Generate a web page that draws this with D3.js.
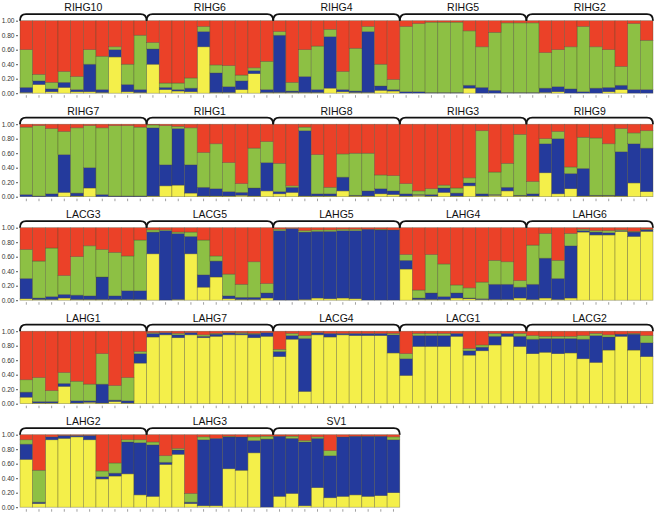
<!DOCTYPE html>
<html><head><meta charset="utf-8">
<script src="https://cdn.jsdelivr.net/npm/d3@7"></script>
<style>body{margin:0;background:#fff}svg{display:block}</style>
</head><body>
<svg id="chart" width="658" height="513"></svg>
<script>
// Population groups, laid out in rows of the figure
const rows = [
  ["RIHG10","RIHG6","RIHG4","RIHG5","RIHG2"],
  ["RIHG7","RIHG1","RIHG8","RIHG3","RIHG9"],
  ["LACG3","LACG5","LAHG5","LAHG4","LAHG6"],
  ["LAHG1","LAHG7","LACG4","LACG1","LACG2"],
  ["LAHG2","LAHG3","SV1"]
];
const yTicks = [0, 0.2, 0.4, 0.6, 0.8, 1.0];

// Membership proportions per individual (10 per group, group order as in rows)
const yellow = [
 .01,.12,.02,.08,.02,.02,.01,.50,.02,.01,
 .40,.05,.03,.02,.64,.01,.01,.05,.27,.01,
 .01,.01,.01,.01,.07,.02,.01,.01,.04,.03,
 0,0,0,0,0,.07,0,0,0,0,
 0,.01,.02,0,0,0,.02,.05,0,0,
 0,0,0,.06,.01,.12,0,0,0,0,
 .01,.15,.16,.05,.01,.01,.01,.02,.01,.08,
 .04,.06,.01,.01,.01,.08,.01,.01,.04,.03,
 .01,.02,.01,.06,.01,.15,.01,.02,.08,.01,
 .01,.33,.04,.11,.01,.01,.01,.01,.19,.07,
 .02,.01,.01,.03,.01,.01,.01,.01,.01,.01,
 .64,0,.01,.64,.18,.32,.02,.01,.01,.03,
 0,0,.01,.03,.02,.03,.02,0,0,0,
 .43,.01,.01,.01,.03,.02,.01,.01,.01,.03,
 .01,.03,.01,.03,.94,.90,.90,.95,.88,.95,
 .09,.01,.01,.24,.01,.02,.01,.03,.01,.56,
 .92,.95,.91,.95,.91,.93,.95,.95,.91,.93,
 .65,.89,.17,.95,.92,.95,.94,.94,.94,.70,
 .39,.79,.79,.79,.93,.67,.73,.81,.93,.79,
 .69,.71,.69,.70,.62,.57,.74,.93,.74,.65,
 .66,.05,.93,.95,.97,.93,.39,.43,.46,.17,
 .15,.59,.73,.05,.02,.02,.53,.51,.75,0,
 .15,.19,.02,.27,.13,.15,.17,.15,.16,.20
];
const blue = [
 .07,.05,.04,.07,.03,.38,.04,.10,.10,.04,
 .21,.03,.02,.05,.21,.27,.08,.12,.04,.04,
 .79,.02,.22,.04,.71,.03,.02,.84,.06,.02,
 .02,.02,.01,.01,.01,.04,.08,.04,.01,.01,
 .01,.06,.07,.06,.02,.07,.06,.06,.05,.05,
 .03,.01,.04,.52,.04,.28,.03,.01,.01,.01,
 .94,.29,.78,.39,.12,.10,.06,.04,.11,.39,
 .03,.07,.90,.03,.03,.19,.01,.07,.07,.05,
 .03,.01,.02,.06,.04,.04,.03,.01,.05,.01,
 .03,.40,.76,.21,.38,.01,.01,.61,.54,.60,
 .28,.02,.04,.05,.06,.05,.31,.05,.12,.12,
 .30,.96,.91,.24,.17,.22,.04,.03,.03,.07,
 .96,.99,.93,.92,.93,.93,.94,.98,.97,.97,
 .12,.02,.09,.04,.07,.01,.01,.21,.21,.15,
 .21,.55,.29,.72,.02,.04,.03,.01,.06,.02,
 .07,.02,.02,.04,.03,.02,.26,.02,.03,.13,
 .05,.03,.04,.03,.02,.03,.03,.02,.05,.05,
 .07,.05,.73,.03,.05,.02,.03,.03,.03,.25,
 .23,.15,.15,.15,.04,.06,.05,.12,.04,.14,
 .20,.19,.21,.20,.27,.37,.18,.03,.22,.19,
 .21,.02,.04,.04,.02,.06,.03,.04,.44,.72,
 .71,.03,.06,.02,.91,.93,.44,.46,.17,.94,
 .83,.76,.88,.68,.58,.82,.81,.83,.82,.73
];
const green = [
 .52,.09,.09,.15,.18,.20,.46,.04,.28,.75,
 .09,.06,.09,.14,.07,.11,.29,.08,.04,.39,
 .05,.12,.37,.60,.10,.25,.59,.07,.30,.14,
 .90,.94,.97,.97,.97,.75,.56,.80,.96,.96,
 .96,.49,.51,.58,.90,.57,.52,.26,.91,.68,
 .93,.97,.90,.32,.90,.58,.92,.97,.97,.95,
 .04,.54,.03,.51,.48,.62,.40,.12,.55,.29,
 .39,.02,.05,.54,.09,.32,.58,.52,.19,.21,
 .14,.05,.08,.04,.07,.07,.87,.31,.33,.84,
 .17,.07,.10,.09,.43,.79,.71,.32,.15,.24,
 .40,.51,.67,.26,.53,.69,.38,.60,.48,.70,
 .03,.01,.02,.06,.48,.07,.30,.18,.49,.13,
 .02,0,.02,.02,.02,.02,.02,0,.01,0,
 .08,.11,.53,.45,.11,.14,.23,.33,.31,.09,
 .54,.34,.25,.17,.02,.02,.03,.01,.01,.01,
 .17,.33,.15,.15,.27,.23,.42,.20,.32,.03,
 .01,0,.02,0,.02,.01,0,.01,.01,0,
 .03,.03,.04,0,0,0,0,0,0,.02,
 .07,.03,.03,.03,0,.03,.03,.04,0,.04,
 .05,.03,.03,.03,.05,.03,.03,0,.01,.10,
 .06,.44,0,0,0,0,.08,.14,.03,.04,
 .04,.09,.02,.12,.04,0,.01,0,.05,.04,
 0,.03,.02,.02,.07,0,0,0,0,.04
];
const red = [
 .40,.74,.85,.70,.77,.40,.49,.36,.60,.20,
 .30,.86,.86,.79,.08,.61,.62,.75,.65,.56,
 .15,.85,.40,.35,.12,.70,.38,.08,.60,.81,
 .08,.04,.02,.02,.02,.14,.36,.16,.03,.03,
 .03,.44,.40,.36,.08,.36,.40,.63,.04,.27,
 .04,.02,.06,.10,.05,.02,.05,.02,.02,.04,
 .01,.02,.03,.05,.39,.27,.53,.82,.33,.24,
 .54,.85,.04,.42,.87,.41,.40,.40,.70,.71,
 .82,.92,.89,.84,.88,.74,.09,.66,.54,.14,
 .79,.20,.10,.59,.18,.19,.27,.06,.12,.09,
 .30,.46,.28,.66,.40,.25,.30,.34,.39,.17,
 .03,.03,.06,.06,.17,.39,.64,.78,.47,.77,
 .02,.01,.04,.03,.03,.02,.02,.02,.02,.03,
 .37,.86,.37,.50,.79,.83,.75,.45,.47,.73,
 .24,.08,.45,.08,.02,.04,.04,.03,.05,.02,
 .67,.64,.82,.57,.69,.73,.31,.75,.64,.28,
 .02,.02,.03,.02,.05,.03,.02,.02,.03,.02,
 .25,.03,.06,.02,.03,.03,.03,.03,.03,.03,
 .31,.03,.03,.03,.03,.24,.19,.03,.03,.03,
 .06,.07,.07,.07,.06,.03,.05,.04,.03,.06,
 .07,.49,.03,.01,.01,.01,.50,.39,.07,.07,
 .10,.29,.19,.81,.03,.05,.02,.03,.03,.02,
 .02,.02,.08,.03,.22,.03,.02,.02,.02,.03
];
const perGroup = 10;

const colors = {yellow:"#f4ef4a", blue:"#243a9c", green:"#8dc044", red:"#eb4128"};
const keys = ["yellow","blue","green","red"];

const svg = d3.select("#chart");
const font = "'Liberation Sans', Arial, sans-serif";
const x = d3.scaleLinear().domain([0, 50]).range([20, 653]);
const bw = x(1) - x(0);
const rowStep = 103.5, top0 = 20.7, rowH = 72.5;

let gIndex = 0;
rows.forEach((groups, r) => {
  const top = top0 + r * rowStep, bottom = top + rowH;
  const y = d3.scaleLinear().domain([0, 1]).range([bottom, top]);
  const g = svg.append("g");

  // records for this row
  const recs = [];
  groups.forEach((name, gi) => {
    for (let k = 0; k < perGroup; k++) {
      const idx = (gIndex + gi) * perGroup + k;
      recs.push({i: gi * perGroup + k, yellow: yellow[idx], blue: blue[idx], green: green[idx], red: red[idx]});
    }
  });
  const series = d3.stack().keys(keys)(recs);
  series.forEach(s => {
    g.append("g").selectAll("rect").data(s).join("rect")
      .attr("x", d => x(d.data.i))
      .attr("width", bw)
      .attr("y", d => y(d[1]))
      .attr("height", d => Math.max(0, y(d[0]) - y(d[1])))
      .attr("fill", colors[s.key])
      .attr("stroke", "#4a4a30")
      .attr("stroke-opacity", 0.55)
      .attr("stroke-width", 0.6);
  });

  // x ticks under each bar
  g.append("g").selectAll("line").data(recs).join("line")
    .attr("x1", d => x(d.i + 0.5)).attr("x2", d => x(d.i + 0.5))
    .attr("y1", bottom + 2).attr("y2", bottom + 4.5)
    .attr("stroke", "#777").attr("stroke-width", 0.7);

  // y axis
  const ax = g.append("g").attr("transform", `translate(18,0)`)
    .call(d3.axisLeft(y).tickValues(yTicks).tickFormat(d3.format(".2f")).tickSize(2).tickPadding(1.5));
  ax.select(".domain").remove();
  ax.selectAll("line").attr("stroke", "#555");
  ax.selectAll("text").attr("font-family", font).attr("font-size", 6.6).attr("fill", "#333");

  // brackets + labels
  groups.forEach((name, gi) => {
    const x0 = x(gi * perGroup), x1 = x((gi + 1) * perGroup);
    const by = top - 6.5, c = 6;
    g.append("path")
      .attr("d", `M${x0},${top} Q${x0},${by} ${x0 + c},${by} L${x1 - c},${by} Q${x1},${by} ${x1},${top}`)
      .attr("fill", "none").attr("stroke", "#111").attr("stroke-width", 1.8);
    g.append("text").attr("x", (x0 + x1) / 2).attr("y", top - 9.5)
      .attr("text-anchor", "middle").attr("font-family", font).attr("font-size", 10.5)
      .attr("fill", "#111").text(name);
  });
  gIndex += groups.length;
});
</script>
</body></html>
